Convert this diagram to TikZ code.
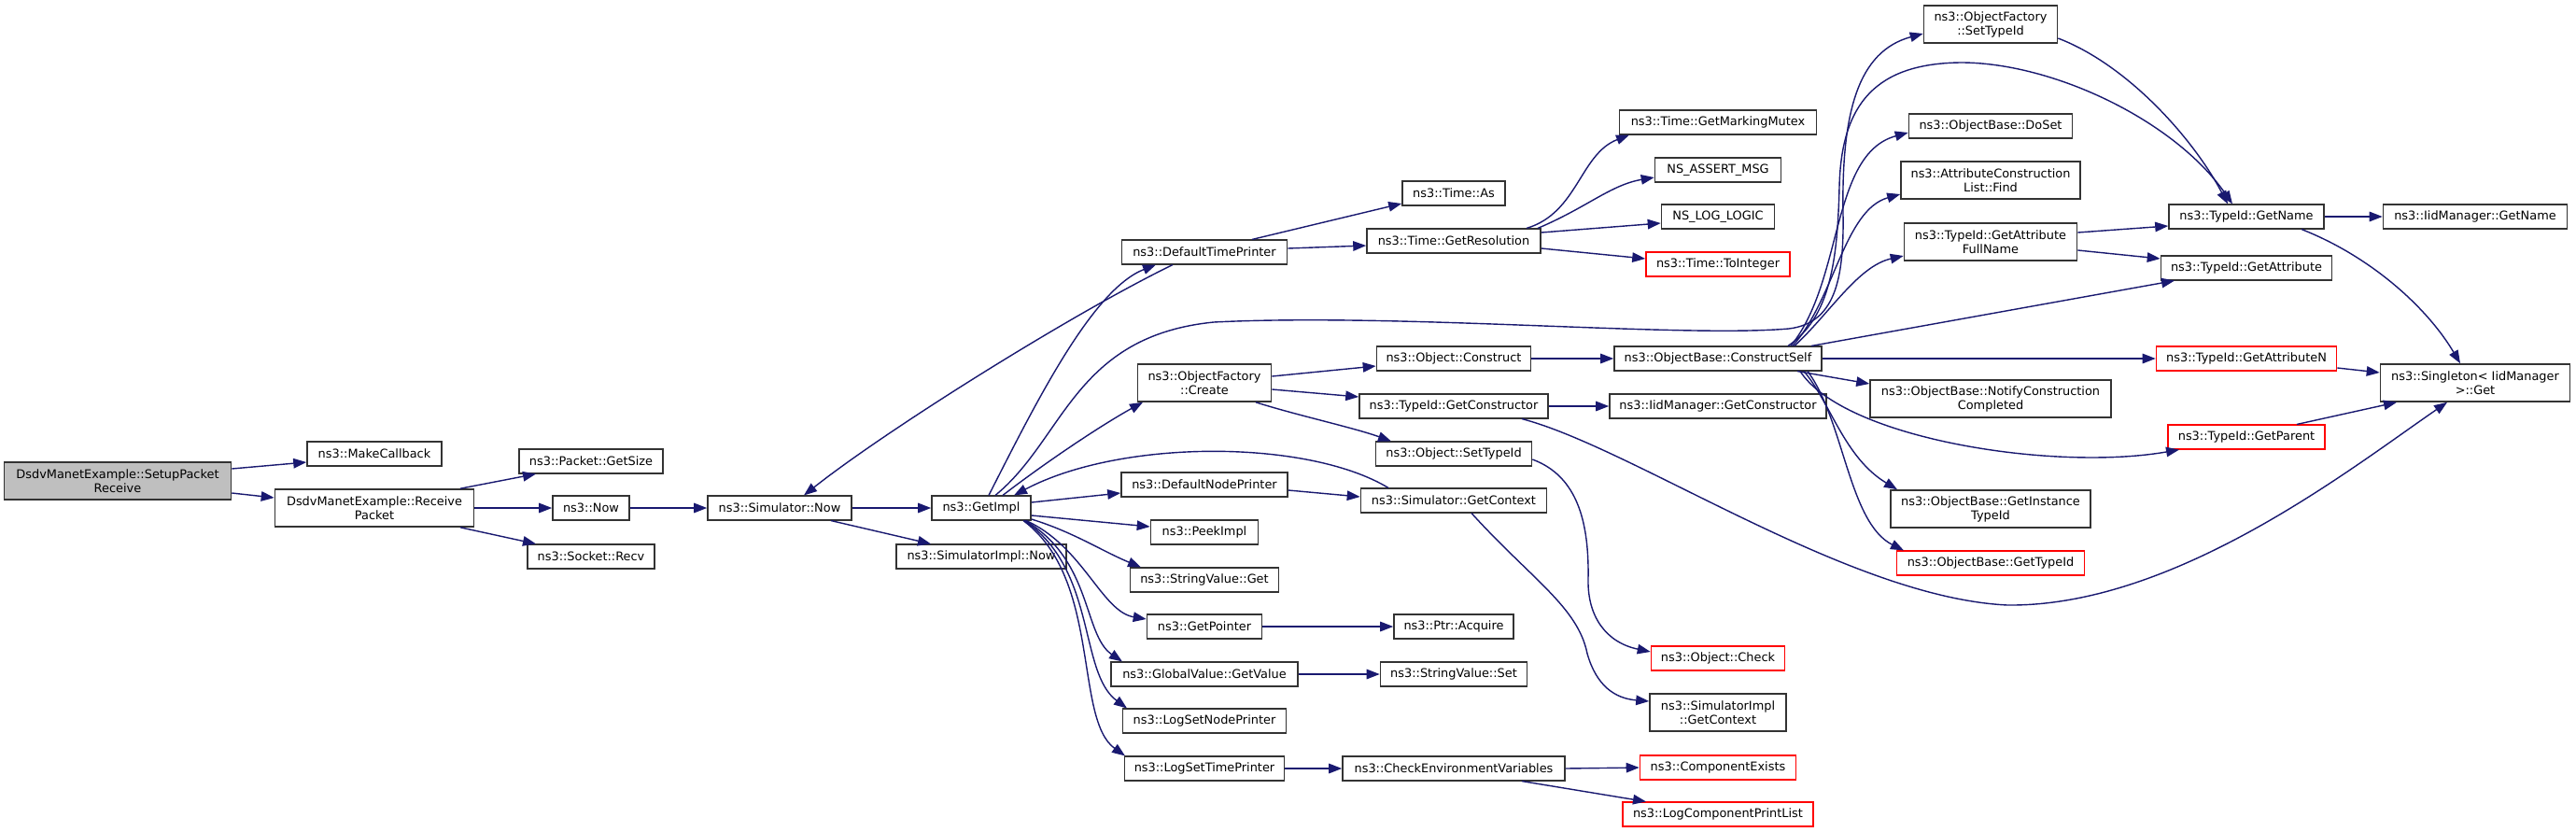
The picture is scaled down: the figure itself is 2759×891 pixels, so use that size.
\documentclass[tikz,border=0pt]{standalone}
\usepackage{fontspec}
\setmainfont{DejaVu Sans}
\usetikzlibrary{arrows.meta}
\definecolor{edgeblue}{HTML}{191970}
\definecolor{rootgray}{HTML}{BFBFBF}
\definecolor{boxline}{HTML}{333333}
\tikzset{
  box/.style={draw=boxline, line width=1.6pt, fill=white, align=center, inner sep=0pt,
    minimum height=25.5pt, font=\fontsize{12.9pt}{15pt}\selectfont},
  boxtwo/.style={box, minimum height=40pt},
  redbox/.style={box, draw=red},
  rootbox/.style={boxtwo, fill=rootgray},
  edge/.style={draw=edgeblue, line width=1.4pt, -{Triangle[length=14pt,width=10.5pt]}},
}
\begin{document}
\begin{tikzpicture}[x=1pt,y=-1pt]
\fill[white] (0,0) rectangle (2759,891);
\useasboundingbox (0,0) rectangle (2759,891);
% nodes
\node[rootbox, minimum width=243pt] (setup) at (126,515) {DsdvManetExample::SetupPacket\\Receive};
\node[box, minimum width=144pt] (mkcb) at (401,486) {ns3::MakeCallback};
\node[boxtwo, minimum width=213pt] (rpkt) at (401,544) {DsdvManetExample::Receive\\Packet};
\node[box, minimum width=154pt] (getsize) at (633,494) {ns3::Packet::GetSize};
\node[box, minimum width=82pt] (now) at (633,544) {ns3::Now};
\node[box, minimum width=136pt] (sockrecv) at (633,596) {ns3::Socket::Recv};
\node[box, minimum width=154pt] (simnow) at (835,544) {ns3::Simulator::Now};
\node[box, minimum width=106pt] (getimpl) at (1051,544) {ns3::GetImpl};
\node[box, minimum width=182pt] (simimplnow) at (1051,596) {ns3::SimulatorImpl::Now};
\node[box, minimum width=177pt] (dtp) at (1290,270) {ns3::DefaultTimePrinter};
\node[boxtwo, minimum width=143pt] (create) at (1290,410) {ns3::ObjectFactory\\::Create};
\node[box, minimum width=178pt] (dnp) at (1290,519) {ns3::DefaultNodePrinter};
\node[box, minimum width=115pt] (peek) at (1290,570) {ns3::PeekImpl};
\node[box, minimum width=159pt] (svget) at (1290,621) {ns3::StringValue::Get};
\node[box, minimum width=123pt] (getptr) at (1290,671) {ns3::GetPointer};
\node[box, minimum width=200pt] (gvget) at (1290,722) {ns3::GlobalValue::GetValue};
\node[box, minimum width=175pt] (lsnp) at (1290,772) {ns3::LogSetNodePrinter};
\node[box, minimum width=171pt] (lstp) at (1290,823) {ns3::LogSetTimePrinter};
\node[box, minimum width=110pt] (timeas) at (1557,207) {ns3::Time::As};
\node[box, minimum width=186pt] (getres) at (1557,258) {ns3::Time::GetResolution};
\node[box, minimum width=165pt] (construct) at (1557,384) {ns3::Object::Construct};
\node[box, minimum width=202pt] (getctor) at (1557,435) {ns3::TypeId::GetConstructor};
\node[box, minimum width=167pt] (osettid) at (1557,486) {ns3::Object::SetTypeId};
\node[box, minimum width=199pt] (simgetctx) at (1557,536) {ns3::Simulator::GetContext};
\node[box, minimum width=128pt] (acquire) at (1557,671) {ns3::Ptr::Acquire};
\node[box, minimum width=157pt] (svset) at (1557,722) {ns3::StringValue::Set};
\node[box, minimum width=238pt] (checkenv) at (1557,823) {ns3::CheckEnvironmentVariables};
\node[box, minimum width=211pt] (mutex) at (1840,131) {ns3::Time::GetMarkingMutex};
\node[box, minimum width=135pt] (assertm) at (1840,182) {NS\_ASSERT\_MSG};
\node[box, minimum width=121pt] (loglogic) at (1840,232) {NS\_LOG\_LOGIC};
\node[redbox, minimum width=154pt] (toint) at (1840,283) {ns3::Time::ToInteger};
\node[box, minimum width=222pt] (cself) at (1840,384) {ns3::ObjectBase::ConstructSelf};
\node[box, minimum width=232pt] (iidctor) at (1840,435) {ns3::IidManager::GetConstructor};
\node[redbox, minimum width=143pt] (ocheck) at (1840,705) {ns3::Object::Check};
\node[boxtwo, minimum width=146pt] (simimplctx) at (1840,763) {ns3::SimulatorImpl\\::GetContext};
\node[redbox, minimum width=167pt] (compexists) at (1840,822) {ns3::ComponentExists};
\node[redbox, minimum width=204pt] (logcpl) at (1840,872) {ns3::LogComponentPrintList};
\node[boxtwo, minimum width=143pt] (ofsettid) at (2132,26) {ns3::ObjectFactory\\::SetTypeId};
\node[box, minimum width=175pt] (doset) at (2132,135) {ns3::ObjectBase::DoSet};
\node[boxtwo, minimum width=192pt] (acfind) at (2132,193) {ns3::AttributeConstruction\\List::Find};
\node[boxtwo, minimum width=185pt] (gafn) at (2132,259) {ns3::TypeId::GetAttribute\\FullName};
\node[boxtwo, minimum width=258pt] (notify) at (2132,427) {ns3::ObjectBase::NotifyConstruction\\Completed};
\node[boxtwo, minimum width=214pt] (instid) at (2132,545) {ns3::ObjectBase::GetInstance\\TypeId};
\node[redbox, minimum width=201pt] (obgettid) at (2132,603) {ns3::ObjectBase::GetTypeId};
\node[box, minimum width=166pt] (getname) at (2406,232) {ns3::TypeId::GetName};
\node[box, minimum width=183pt] (getattr) at (2406,287) {ns3::TypeId::GetAttribute};
\node[redbox, minimum width=193pt] (getattrn) at (2406,384) {ns3::TypeId::GetAttributeN};
\node[redbox, minimum width=168pt] (getparent) at (2406,468) {ns3::TypeId::GetParent};
\node[box, minimum width=197pt] (iidgetname) at (2651,232) {ns3::IidManager::GetName};
\node[boxtwo, minimum width=203pt] (singleton) at (2651,410) {ns3::Singleton< IidManager\\>::Get};
% edges
\draw[edge] ([yshift=13pt]setup.east) -- ([yshift=-9pt]mkcb.west);
\draw[edge] ([yshift=-13pt]setup.east) -- ([yshift=11pt]rpkt.west);
\draw[edge] ([xshift=92pt]rpkt.north) -- ([xshift=-59pt]getsize.south);
\draw[edge] (rpkt.east) -- (now.west);
\draw[edge] ([xshift=92pt]rpkt.south) -- ([xshift=-59pt]sockrecv.north);
\draw[edge] (now.east) -- (simnow.west);
\draw[edge] (simnow.east) -- (getimpl.west);
\draw[edge] ([xshift=55pt]simnow.south) -- ([xshift=-54pt]simimplnow.north);
\draw[edge] ([xshift=-34pt]dtp.south) .. controls (1150,335) and (950,460) .. ([xshift=26pt]simnow.north);
\draw[edge] ([xshift=8pt]getimpl.north) .. controls (1110,430) and (1170,310) .. ([xshift=-52pt]dtp.south);
\draw[edge] ([xshift=51pt]dtp.north) -- ([yshift=-11pt]timeas.west);
\draw[edge] ([yshift=4pt]dtp.east) -- ([yshift=-5pt]getres.west);
\draw[edge] ([xshift=78pt]getres.north) .. controls (1690,228) and (1692,165) .. ([xshift=-95pt]mutex.south);
\draw[edge] ([xshift=90pt]getres.north) .. controls (1700,222) and (1725,198) .. ([yshift=-8pt]assertm.west);
\draw[edge] ([yshift=9pt]getres.east) -- ([yshift=-7pt]loglogic.west);
\draw[edge] ([yshift=-8pt]getres.east) -- ([yshift=6pt]toint.west);
\draw[edge] ([xshift=23pt]getimpl.north) .. controls (1120,495) and (1180,455) .. ([xshift=-66pt]create.south);
\draw[edge] ([xshift=15pt]getimpl.north) .. controls (1140,470) and (1150,360) .. (1300,345)
   .. controls (1500,335) and (1800,362) .. (1916,352)
   .. controls (1965,346) and (1975,300) .. (1974,230)
   .. controls (1972,120) and (1990,55) .. ([yshift=-10pt]ofsettid.west);
\draw[edge] ([xshift=75pt]cself.north) .. controls (1960,340) and (1968,280) .. (1970,200)
   .. controls (1972,110) and (2010,68) .. (2100,67)
   .. controls (2200,67) and (2330,130) .. ([xshift=-15pt]getname.north);
\draw[edge] ([yshift=-15pt]ofsettid.east) .. controls (2280,70) and (2350,150) .. ([xshift=-20pt]getname.north);
\draw[edge] ([xshift=78pt]cself.north) .. controls (1975,300) and (1960,165) .. ([yshift=-7pt]doset.west);
\draw[edge] ([xshift=80pt]cself.north) .. controls (1965,320) and (1975,225) .. ([yshift=-15pt]acfind.west);
\draw[edge] ([xshift=82pt]cself.north) .. controls (1960,335) and (1990,285) .. ([yshift=-15pt]gafn.west);
\draw[edge] ([xshift=100pt]cself.north) -- ([xshift=-77pt]getattr.south);
\draw[edge] (cself.east) -- (getattrn.west);
\draw[edge] ([xshift=85pt]cself.south) -- ([yshift=16pt]notify.west);
\draw[edge] ([xshift=88pt]cself.south) .. controls (1975,470) and (2200,505) .. ([xshift=-72pt]getparent.south);
\draw[edge] ([xshift=92pt]cself.south) .. controls (1960,430) and (1975,490) .. ([xshift=-100pt]instid.north);
\draw[edge] ([xshift=96pt]cself.south) .. controls (1975,450) and (1980,560) .. ([xshift=-93pt]obgettid.north);
\draw[edge] (getctor.east) -- (iidctor.west);
\draw[edge] ([xshift=73pt]getctor.south) .. controls (1750,480) and (1980,640) .. (2150,648)
   .. controls (2330,650) and (2520,500) .. ([xshift=-30pt]singleton.south);
\draw[edge] ([yshift=7pt]create.east) -- ([yshift=-8pt]construct.west);
\draw[edge] ([yshift=-7pt]create.east) -- ([yshift=10pt]getctor.west);
\draw[edge] ([xshift=55pt]create.south) .. controls (1390,445) and (1450,458) .. ([xshift=-67pt]osettid.north);
\draw[edge] (construct.east) -- (cself.west);
\draw[edge] ([yshift=-6pt]osettid.east) .. controls (1690,510) and (1702,560) .. (1701,620)
   .. controls (1700,660) and (1720,688) .. ([yshift=7pt]ocheck.west);
\draw[edge] ([yshift=-6pt]dnp.east) -- ([yshift=4pt]simgetctx.west);
\draw[edge] ([xshift=-70pt]simgetctx.north) .. controls (1400,470) and (1200,470) .. ([xshift=35pt]getimpl.north);
\draw[edge] ([xshift=19pt]simgetctx.south) .. controls (1640,620) and (1690,650) .. (1700,700)
   .. controls (1710,735) and (1730,748) .. ([yshift=12pt]simimplctx.west);
\draw[edge] (getptr.east) -- (acquire.west);
\draw[edge] (gvget.east) -- (svset.west);
\draw[edge] (lstp.east) -- (checkenv.west);
\draw[edge] (checkenv.east) -- (compexists.west);
\draw[edge] ([xshift=73pt]checkenv.south) -- ([xshift=-77pt]logcpl.north);
\draw[edge] ([yshift=6pt]getimpl.east) -- ([yshift=-9pt]dnp.west);
\draw[edge] ([yshift=-8pt]getimpl.east) -- ([yshift=6pt]peek.west);
\draw[edge] ([yshift=-12pt]getimpl.east) .. controls (1150,570) and (1180,590) .. ([xshift=-68pt]svget.north);
\draw[edge] ([xshift=48pt]getimpl.south) .. controls (1160,585) and (1180,655) .. ([yshift=8pt]getptr.west);
\draw[edge] ([xshift=47pt]getimpl.south) .. controls (1170,600) and (1160,680) .. ([xshift=-88pt]gvget.north);
\draw[edge] ([xshift=46pt]getimpl.south) .. controls (1175,610) and (1155,720) .. ([xshift=-83pt]lsnp.north);
\draw[edge] ([xshift=45pt]getimpl.south) .. controls (1180,620) and (1150,770) .. ([xshift=-85pt]lstp.north);
\draw[edge] ([yshift=10pt]gafn.east) -- ([yshift=-10pt]getname.west);
\draw[edge] ([yshift=-9pt]gafn.east) -- ([yshift=10pt]getattr.west);
\draw[edge] (getname.east) -- (iidgetname.west);
\draw[edge] ([xshift=59pt]getname.south) .. controls (2540,275) and (2600,330) .. ([xshift=-16pt]singleton.north);
\draw[edge] ([yshift=-10pt]getattrn.east) -- ([yshift=11pt]singleton.west);
\draw[edge] ([xshift=54pt]getparent.north) -- ([xshift=-84pt]singleton.south);
\end{tikzpicture}
\end{document}
